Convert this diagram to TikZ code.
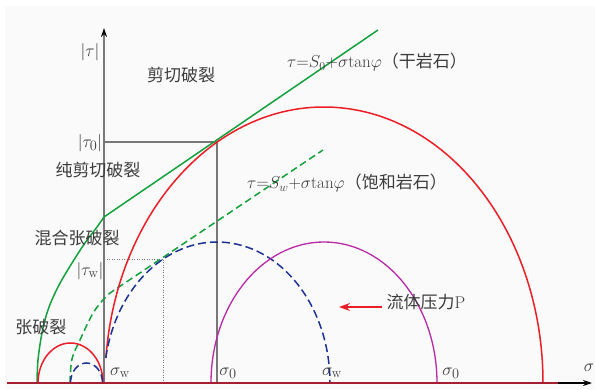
\documentclass[tikz,border=0pt]{standalone}
\usepackage{fontspec}
\newfontfamily\cjk{Noto Sans CJK SC}
\usetikzlibrary{arrows.meta}
\definecolor{cgreen}{RGB}{20,160,60}
\definecolor{cred}{RGB}{235,30,40}
\definecolor{cblue}{RGB}{30,50,150}
\definecolor{cmag}{RGB}{185,40,165}
\definecolor{caxis}{RGB}{165,30,50}
\definecolor{ctext}{RGB}{60,60,60}
\definecolor{cguide}{RGB}{120,120,120}
\begin{document}
\begin{tikzpicture}[x=1pt,y=1pt,
  lbl/.style={text=ctext, inner sep=0pt, font=\cjk\fontsize{17}{20}\selectfont},
  mth/.style={text=ctext, inner sep=0pt, font=\fontsize{19}{22}\selectfont},
  frm/.style={text=ctext, inner sep=0pt, font=\fontsize{17}{20}\selectfont},
  guide/.style={draw=cguide, line width=1.1pt},
  dotguide/.style={draw=cguide, line width=0.8pt, dash pattern=on 1pt off 1.5pt},
  greenl/.style={draw=cgreen, line width=1.5pt},
  greend/.style={draw=cgreen, line width=1.5pt, dash pattern=on 7pt off 4pt},
  redl/.style={draw=cred, line width=1.5pt},
  bluel/.style={draw=cblue, line width=1.5pt, dash pattern=on 8pt off 4pt},
  magl/.style={draw=cmag, line width=1.3pt}]
\useasboundingbox (0,0) rectangle (595,389);
\fill[black!2] (5,0) rectangle (595,383);

% coordinates
\coordinate (O) at (104,6);
\coordinate (ytop) at (104,361);
\coordinate (xl) at (7,6);
\coordinate (xm) at (558,6);
\coordinate (xr) at (592,6);
\coordinate (T0) at (217,247);
\coordinate (T0y) at (104,247);
\coordinate (T0x) at (217,6);
\coordinate (Tw) at (163.5,130);
\coordinate (Twy) at (104,130);
\coordinate (Twx) at (163.5,6);
\coordinate (G1) at (104,172);
\coordinate (G2) at (378,359);
\coordinate (D1) at (110,96);
\coordinate (D2) at (323,239);
\coordinate (Pa) at (382,82);
\coordinate (Pb) at (339,82);

% vertical axis
\draw[draw=cguide, line width=1.3pt, -{Stealth[length=9pt,width=6pt,color=black]}] (O) -- (ytop);
% guides
\draw[guide] (T0y) -- (T0) -- (T0x);
\draw[dotguide] (Twy) -- (Tw) -- (Twx);

% envelopes
\draw[greenl] plot[smooth, tension=0.6] coordinates {(37,6) (38,29) (42,56) (48,79) (58,102) (72,126) (85,146) (97,162) (104,172)} -- (G2);
\draw[greend] plot[smooth, tension=0.6] coordinates {(70,6) (72,30) (80,49) (92,74) (102,88) (110,96)} -- (D2);

% Mohr circles
\draw[redl] (324,6) ++(174.8:219 and 276) arc[start angle=174.8, end angle=0, x radius=219, y radius=276];
\draw[redl] (38,6) arc[start angle=180, end angle=0, x radius=32.5, y radius=40];
\draw[bluel] (217,6) ++(169.8:113 and 141) arc[start angle=169.8, end angle=0, x radius=113, y radius=141];
\draw[bluel] (70.5,6) arc[start angle=180, end angle=0, x radius=16, y radius=20];
\draw[magl] (211,6) arc[start angle=180, end angle=0, x radius=113, y radius=141];

% horizontal axis
\draw[black, line width=1.3pt, -{Stealth[length=9pt,width=6pt]}] (xm) -- (xr);
\draw[caxis, line width=1.6pt] (xl) -- (xm);

% fluid pressure arrow
\draw[cred, line width=1.4pt, -{Stealth[length=11pt,width=8pt]}] (Pa) -- (Pb);

% labels
\node[mth] (ltau) at (90,337) {$|\tau|$};
\node[lbl] (shear) at (181,314) {剪切破裂};
\node[mth] (ltau0) at (90,246) {$|\tau_0|$};
\node[lbl] (pure) at (98,219) {纯剪切破裂};
\node[lbl] (mixed) at (77,151) {混合张破裂};
\node[mth] (ltauw) at (90,118) {$|\tau_{\mathrm{w}}|$};
\node[lbl] (tens) at (41,62) {张破裂};
\node[mth] (sw1) at (120,16) {$\sigma_{\mathrm{w}}$};
\node[mth] (s01) at (228,16) {$\sigma_0$};
\node[mth] (sw2) at (332,16) {$\sigma_{\mathrm{w}}$};
\node[mth] (s02) at (451,16) {$\sigma_0$};
\node[mth] (sig) at (589,21) {$\sigma$};
\node[lbl] (fluid) at (426,87) {流体压力{\rmfamily P}};
\node[frm, anchor=west] (dry) at (287,327) {${\tau}{=}{S_0}{+}\sigma\mathrm{tan}\varphi$\cjk（干岩石）};
\node[frm, anchor=west] (sat) at (247,206) {${\tau}{=}{S_w}{+}\sigma\mathrm{tan}\varphi$\cjk（饱和岩石）};
\end{tikzpicture}
\end{document}
